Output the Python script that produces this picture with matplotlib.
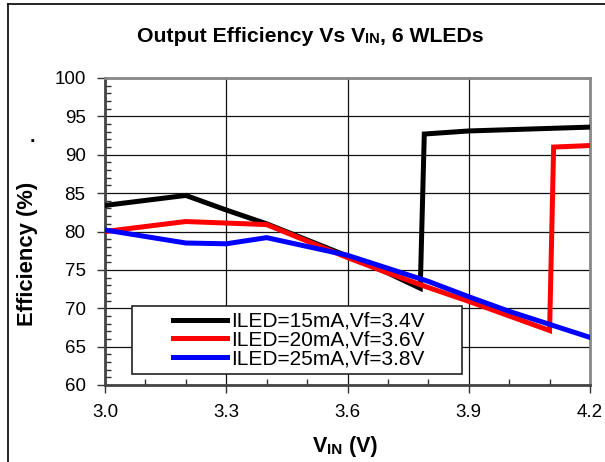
import numpy as np
import matplotlib
matplotlib.use('Agg')
import matplotlib.pyplot as plt
from matplotlib.ticker import MultipleLocator, FormatStrFormatter
from matplotlib.patches import Rectangle
from matplotlib.lines import Line2D

plt.rcParams['font.family'] = ['Liberation Sans', 'DejaVu Sans']

# data
vin_15 = [3.0, 3.2, 3.3, 3.4, 3.6, 3.7, 3.78, 3.79, 3.9, 4.2]
eff_15 = [83.4, 84.7, 82.8, 81.0, 76.8, 74.6, 72.6, 92.7, 93.1, 93.6]

vin_20 = [3.0, 3.2, 3.4, 3.6, 3.7, 3.8, 3.9, 4.0, 4.1, 4.11, 4.2]
eff_20 = [80.0, 81.3, 80.9, 76.6, 74.6, 72.7, 70.9, 69.0, 67.1, 91.0, 91.2]

vin_25 = [3.0, 3.2, 3.3, 3.4, 3.6, 3.8, 3.9, 4.0, 4.1, 4.2]
eff_25 = [80.2, 78.5, 78.4, 79.2, 76.9, 73.5, 71.5, 69.6, 67.9, 66.2]

labels = ['ILED=15mA,Vf=3.4V', 'ILED=20mA,Vf=3.6V', 'ILED=25mA,Vf=3.8V']
colors = ['black', '#ff0000', '#0000ff']

fig = plt.figure(figsize=(6.05, 4.62), dpi=100)
ax = fig.add_axes([105/605, 1-385/462, 485/605, 307/462])

series = [(vin_15, eff_15), (vin_20, eff_20), (vin_25, eff_25)]
for (x, y), c, lab in zip(series, colors, labels):
    ax.plot(x, y, color=c, lw=3.6, label=lab, zorder=3, solid_joinstyle='miter')

ax.set_xlim(3.0, 4.2)
ax.set_ylim(60, 100)
ax.xaxis.set_major_locator(MultipleLocator(0.3))
ax.xaxis.set_minor_locator(MultipleLocator(0.1))
ax.xaxis.set_major_formatter(FormatStrFormatter('%.1f'))
ax.yaxis.set_major_locator(MultipleLocator(5))
ax.yaxis.set_minor_locator(MultipleLocator(1))
ax.tick_params(which='major', direction='out', length=6, width=1, labelsize=13.5, color='#333333', pad=8)
ax.tick_params(which='minor', direction='in', length=4, width=1, color='#333333')
ax.grid(True, which='major', color='#111111', lw=0.9)
ax.set_axisbelow(True)

for s in ['left', 'bottom']:
    ax.spines[s].set_color('#444444')
    ax.spines[s].set_linewidth(2)
for s in ['top', 'right']:
    ax.spines[s].set_color('#888888')
    ax.spines[s].set_linewidth(2)

# legend with its own frame
x0, x1 = 27/485, 357/485
y0, y1 = 11/307, 79/307
ax.add_patch(Rectangle((x0, y0), x1-x0, y1-y0, transform=ax.transAxes,
                       facecolor='white', edgecolor='#222222', lw=1.2, zorder=4))
leg = ax.legend(loc='center', bbox_to_anchor=((x0+x1)/2 + 0.003, (y0+y1)/2), frameon=False,
                fontsize=15, handlelength=2.6, handletextpad=0.2, labelspacing=-0.02,
                borderpad=0.2)
leg.set_zorder(5)

# title with small-caps style "IN"
t1 = fig.text(137/605, 1-42/462, 'Output Efficiency Vs V', fontsize=15.3,
              fontweight='bold', ha='left', va='baseline')
a2 = ax.annotate('IN', xy=(1, 0), xycoords=t1, fontsize=10.5, fontweight='bold',
                 ha='left', va='bottom', annotation_clip=False)
ax.annotate(', 6 WLEDs', xy=(1, 0), xycoords=a2, fontsize=15.3, fontweight='bold',
            ha='left', va='bottom', annotation_clip=False)

# x label
t3 = fig.text(313/605, 1-452/462, 'V', fontsize=15.5, fontweight='bold', ha='left', va='baseline')
a3 = ax.annotate('IN', xy=(1, 0), xycoords=t3, fontsize=11, fontweight='bold',
                 ha='left', va='bottom', annotation_clip=False)
ax.annotate(' (V)', xy=(1, 0), xycoords=a3, fontsize=15.5, fontweight='bold',
            ha='left', va='bottom', annotation_clip=False)

fig.text(28/605, 1-254/462, 'Efficiency (%)', fontsize=15.8, fontweight='bold',
         rotation=90, ha='center', va='center')
fig.text(32/605, 1-138/462, '.', fontsize=14, fontweight='bold', ha='center', va='center')

# outer border lines
fig.add_artist(Line2D([8/605, 8/605], [0, 1-4/462], transform=fig.transFigure, color='black', lw=1.2))
fig.add_artist(Line2D([8/605, 1], [1-4/462, 1-4/462], transform=fig.transFigure, color='black', lw=1.2))

fig.savefig('out.png', dpi=100)
